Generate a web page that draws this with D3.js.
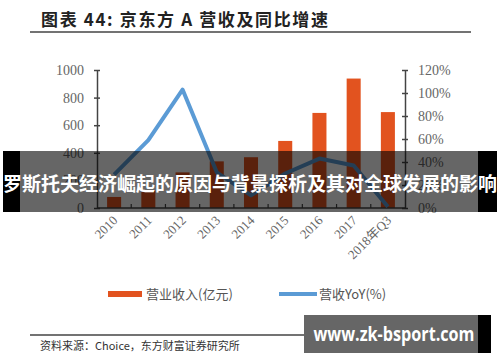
<!DOCTYPE html>
<html>
<head>
<meta charset="utf-8">
<script src="https://cdn.jsdelivr.net/npm/d3@7/dist/d3.min.js"></script>
<style>
  body { margin: 0; background: #fff; }
  svg { display: block; }
</style>
</head>
<body>
<div id="chart"></div>
<script>
const categories = ['2010', '2011', '2012', '2013', '2014', '2015', '2016', '2017', '2018年Q3'];
const revenue = [80, 127, 258, 338, 368, 486, 689, 938, 695];
const yoy = [0.29, 0.59, 1.03, 0.31, 0.11, 0.30, 0.43, 0.37, 0.01];
const leftTicks = [0, 200, 400, 600, 800, 1000];
const rightTicks = [0, 0.2, 0.4, 0.6, 0.8, 1.0, 1.2];

const W = 500, H = 362;
const margin = {left: 97, right: 95, top: 70, bottom: 154};
const width = W - margin.left - margin.right;
const height = H - margin.top - margin.bottom;

const svg = d3.select('#chart').append('svg')
    .attr('width', W)
    .attr('height', H);

// title + rule
svg.append('text')
    .attr('x', 41).attr('y', 26)
    .attr('textLength', 287).attr('lengthAdjust', 'spacing')
    .style('font-family', '"Noto Sans CJK SC", sans-serif')
    .style('font-weight', 'bold')
    .style('font-size', '17px')
    .style('fill', '#222')
    .text('图表 44:  京东方 A 营收及同比增速');
svg.append('line')
    .attr('x1', 30).attr('x2', 471).attr('y1', 32).attr('y2', 32)
    .style('stroke', '#444').style('stroke-width', 1.5);

const g = svg.append('g')
    .attr('transform', `translate(${margin.left}, ${margin.top})`);

const x = d3.scaleBand().domain(categories).range([0, width]).paddingInner(0.59).paddingOuter(0.295);
const xb = d3.scaleBand().domain(categories).range([0, width]);
const yL = d3.scaleLinear().domain([0, 1000]).range([height, 0]);
const yR = d3.scaleLinear().domain([0, 1.2]).range([height, 0]);

const tickFont = sel => sel.selectAll('text')
    .style('font-family', '"Liberation Serif", serif')
    .style('font-size', '14px')
    .style('fill', '#666');

// bars
g.selectAll('.bar')
    .data(categories)
  .enter().append('rect')
    .attr('class', 'bar')
    .attr('x', d => x(d))
    .attr('width', x.bandwidth())
    .attr('y', (d, i) => yL(revenue[i]))
    .attr('height', (d, i) => height - yL(revenue[i]))
    .style('fill', '#E2531F');

// left axis
const gl = g.append('g')
    .call(d3.axisLeft(yL).tickValues(leftTicks).tickSize(0).tickPadding(13).tickFormat(d3.format('d')));
gl.select('.domain').style('stroke', '#444').style('stroke-width', 1.5);
gl.selectAll('.tick').append('line')
    .attr('x1', -3).attr('x2', 3)
    .style('stroke', '#444').style('stroke-width', 1.5);
tickFont(gl);

// right axis
const gr = g.append('g')
    .attr('transform', `translate(${width}, 0)`)
    .call(d3.axisRight(yR).tickValues(rightTicks).tickSize(0).tickPadding(13).tickFormat(d3.format('.0%')));
gr.select('.domain').style('stroke', '#444').style('stroke-width', 1.5);
gr.selectAll('.tick').append('line')
    .attr('x1', -3).attr('x2', 3)
    .style('stroke', '#444').style('stroke-width', 1.5);
tickFont(gr);

// x axis
const gx = g.append('g')
    .attr('transform', `translate(0, ${height})`);
gx.append('line')
    .attr('x1', 0).attr('x2', width)
    .style('stroke', '#444').style('stroke-width', 1.5);
gx.selectAll('.xtick')
    .data(categories.slice(1))
  .enter().append('line')
    .attr('x1', d => xb(d)).attr('x2', d => xb(d))
    .attr('y1', 0).attr('y2', -4)
    .style('stroke', '#444').style('stroke-width', 1.2);
gx.selectAll('.xlabel')
    .data(categories)
  .enter().append('text')
    .attr('transform', d => `translate(${xb(d) + xb.bandwidth() / 2 + 1}, 10) rotate(-45)`)
    .attr('text-anchor', 'end')
    .attr('dy', '0.35em')
    .style('font-family', '"Liberation Serif", "Noto Sans CJK SC", serif')
    .style('font-size', '13px')
    .style('fill', '#666')
    .text(d => d);

// yoy line
const line = d3.line()
    .x((d, i) => xb(categories[i]) + xb.bandwidth() / 2)
    .y(d => yR(d));
g.append('path')
    .datum(yoy)
    .attr('d', line)
    .style('fill', 'none')
    .style('stroke', '#5B9BD5')
    .style('stroke-width', 4)
    .style('stroke-linejoin', 'round');

// legend
const lg = svg.append('g').attr('transform', 'translate(0, 294)');
lg.append('rect').attr('x', 108).attr('y', -3).attr('width', 34).attr('height', 6).style('fill', '#E2531F');
lg.append('text').attr('x', 146).attr('dy', '0.35em')
    .style('font-family', '"Noto Sans CJK SC", sans-serif').style('font-size', '13px').style('fill', '#555')
    .text('营业收入(亿元)');
lg.append('line').attr('x1', 279).attr('x2', 317).style('stroke', '#5B9BD5').style('stroke-width', 4);
lg.append('text').attr('x', 319).attr('dy', '0.35em')
    .style('font-family', '"Noto Sans CJK SC", sans-serif').style('font-size', '13px').style('fill', '#555')
    .text('营收YoY(%)');

// source
svg.append('line')
    .attr('x1', 30).attr('x2', 471).attr('y1', 335).attr('y2', 335)
    .style('stroke', '#444').style('stroke-width', 1.5);
svg.append('text')
    .attr('x', 40).attr('y', 350)
    .style('font-family', '"Noto Sans CJK SC", sans-serif')
    .style('font-size', '11px')
    .style('fill', '#333')
    .text('资料来源：Choice，东方财富证券研究所');

// banner overlay
svg.append('rect').attr('x', 3).attr('y', 151).attr('width', 17).attr('height', 61).style('fill', '#000');
svg.append('rect').attr('x', 478).attr('y', 151).attr('width', 19).attr('height', 61).style('fill', '#000');
svg.append('rect').attr('x', 20).attr('y', 151).attr('width', 458).attr('height', 61)
    .style('fill', '#000').style('opacity', 0.6);
svg.append('text')
    .attr('x', 250).attr('y', 184)
    .attr('text-anchor', 'middle').attr('dy', '0.35em')
    .attr('textLength', 494).attr('lengthAdjust', 'spacingAndGlyphs')
    .style('font-family', '"Noto Sans CJK SC", sans-serif')
    .style('font-weight', 'bold')
    .style('font-size', '19px')
    .style('fill', '#fff')
    .text('罗斯托夫经济崛起的原因与背景探析及其对全球发展的影响');

// watermark
svg.append('rect').attr('x', 304).attr('y', 315).attr('width', 174).attr('height', 38).style('fill', '#666');
svg.append('rect').attr('x', 478).attr('y', 315).attr('width', 13).attr('height', 38).style('fill', '#000');
svg.append('text')
    .attr('x', 394).attr('y', 334)
    .attr('text-anchor', 'middle').attr('dy', '0.35em')
    .attr('textLength', 161).attr('lengthAdjust', 'spacingAndGlyphs')
    .style('font-family', '"Open Sans", sans-serif')
    .style('font-weight', 'bold')
    .style('font-size', '19px')
    .style('fill', '#fff')
    .text('www.zk-bsport.com');
</script>
</body>
</html>
